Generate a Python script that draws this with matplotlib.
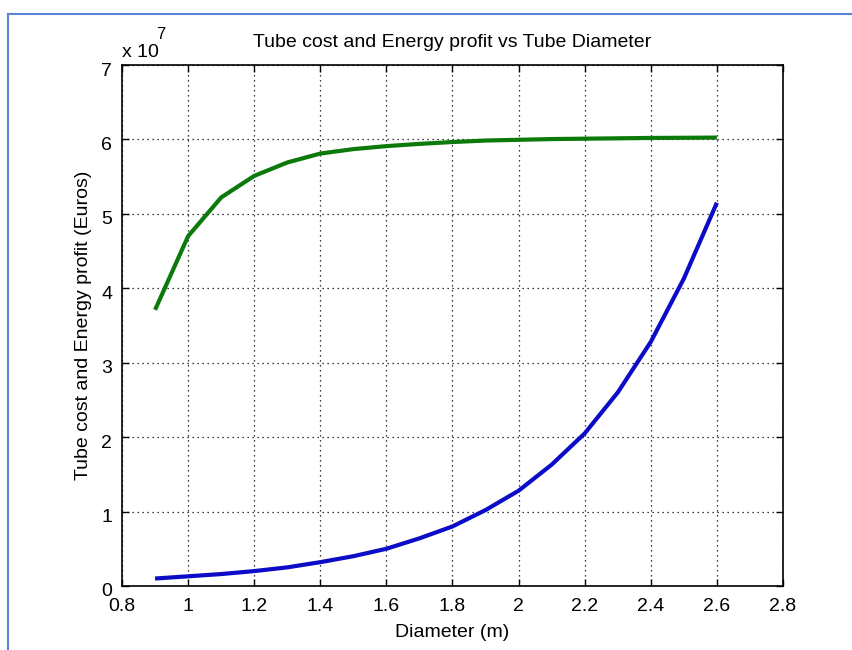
import matplotlib.pyplot as plt
from matplotlib.lines import Line2D
from matplotlib.ticker import FuncFormatter
from matplotlib.transforms import ScaledTranslation

plt.rcParams['font.family'] = ['Liberation Sans', 'DejaVu Sans']

# Diametro do tubo (m)
diametro = [0.9, 1.0, 1.1, 1.2, 1.3, 1.4, 1.5, 1.6, 1.7, 1.8,
            1.9, 2.0, 2.1, 2.2, 2.3, 2.4, 2.5, 2.6]

# Lucro de energia (Euros)
lucro_energia = [3.71e7, 4.70e7, 5.22e7, 5.51e7, 5.69e7, 5.81e7, 5.87e7, 5.91e7, 5.94e7,
                 5.965e7, 5.985e7, 5.995e7, 6.005e7, 6.01e7, 6.015e7, 6.02e7, 6.022e7, 6.025e7]

# Custo do tubo (Euros)
custo_tubo = [0.10e7, 0.13e7, 0.16e7, 0.20e7, 0.25e7, 0.32e7, 0.40e7, 0.50e7, 0.64e7,
              0.80e7, 1.02e7, 1.28e7, 1.63e7, 2.05e7, 2.60e7, 3.28e7, 4.13e7, 5.15e7]

fig = plt.figure(figsize=(8.52, 6.5), dpi=100)
ax = fig.add_axes([0.1432, 0.0985, 0.7758, 0.8015])

ax.plot(diametro, lucro_energia, color='#0b7a0b', linewidth=3.0, solid_capstyle='butt')
ax.plot(diametro, custo_tubo, color='#0c0cc8', linewidth=3.0, solid_capstyle='butt')

ax.set_xlim(0.8, 2.8)
ax.set_ylim(0, 7e7)
ax.set_xticks([0.8, 1.0, 1.2, 1.4, 1.6, 1.8, 2.0, 2.2, 2.4, 2.6, 2.8])
ax.set_yticks([0, 1e7, 2e7, 3e7, 4e7, 5e7, 6e7, 7e7])
ax.xaxis.set_major_formatter(FuncFormatter(lambda v, p: f"{v:g}"))
ax.yaxis.set_major_formatter(FuncFormatter(lambda v, p: f"{v / 1e7:g}"))

ax.grid(True, color='black', linestyle=(0, (1, 3)), linewidth=0.9)
ax.tick_params(direction='in', top=True, right=True, length=5, width=1, labelsize=14)
ax.tick_params(axis='x', pad=9)
ax.tick_params(axis='y', pad=7)
for s in ax.spines.values():
    s.set_linewidth(1.2)

# rotulos do eixo y um pouco abaixo, como no MATLAB
desloca = ScaledTranslation(0, -4 / 100, fig.dpi_scale_trans)
for rotulo in ax.get_yticklabels():
    rotulo.set_transform(rotulo.get_transform() + desloca)

ax.set_title('Tube cost and Energy profit vs Tube Diameter', fontsize=14, pad=13)
ax.set_xlabel('Diameter (m)', fontsize=14, labelpad=6)
ax.set_ylabel('Tube cost and Energy profit (Euros)', fontsize=14, labelpad=7)

# fator de escala do eixo y
ax.text(0.0, 1.008, 'x 10', transform=ax.transAxes, fontsize=14, ha='left', va='bottom')
ax.text(0.052, 1.045, '7', transform=ax.transAxes, fontsize=12, ha='left', va='bottom')

# moldura azul
fig.add_artist(Line2D([0.0095, 0.0095], [0, 0.978], transform=fig.transFigure, color='#5b84d4', linewidth=1.5))
fig.add_artist(Line2D([0.0095, 1.0], [0.978, 0.978], transform=fig.transFigure, color='#5b84d4', linewidth=1.5))

fig.savefig('out.png', dpi=100)
